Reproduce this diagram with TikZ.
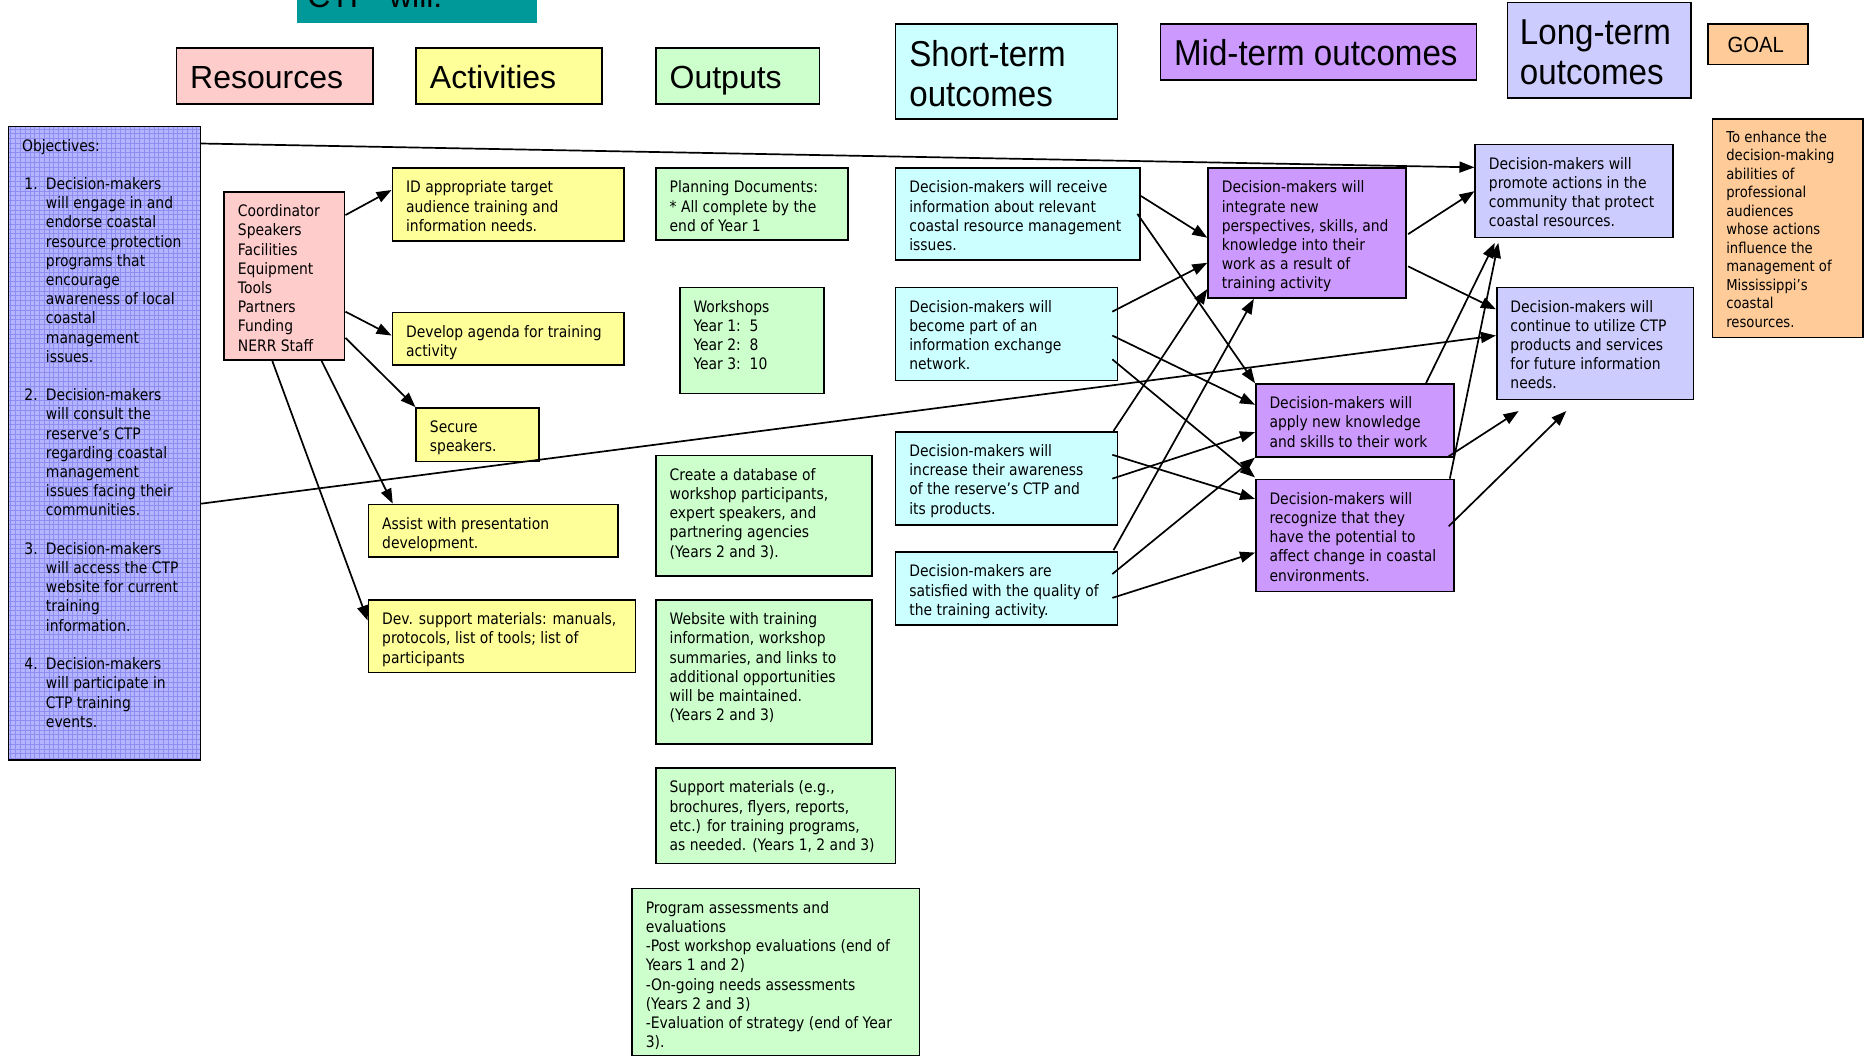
\documentclass[tikz,border=0pt]{standalone}
\usepackage{fontspec}
\setmainfont{DejaVu Sans}[FakeStretch=0.88]
\newfontfamily\hdfont{Liberation Sans}
\newfontfamily\hdnarrow{Liberation Sans}[FakeStretch=0.92]
\usetikzlibrary{arrows.meta,calc,fit}
\definecolor{pinkc}{HTML}{FFCCCC}
\definecolor{yellowc}{HTML}{FFFF99}
\definecolor{greenc}{HTML}{CCFFCC}
\definecolor{cyanc}{HTML}{CCFFFF}
\definecolor{purplec}{HTML}{CC99FF}
\definecolor{lavc}{HTML}{CCCCFF}
\definecolor{orangec}{HTML}{FFCC99}
\definecolor{tealc}{HTML}{009999}
\definecolor{objfill}{HTML}{B4B4FF}
\definecolor{objgrid}{HTML}{8E8EF2}
\newcommand\bodyf{\fontsize{15.8pt}{19.2pt}\selectfont}
\newcommand\goalf{\fontsize{15pt}{18.5pt}\selectfont}
\newcommand\hdf{\hdfont\fontsize{32pt}{38pt}\selectfont}
\newcommand\hdn{\hdnarrow\fontsize{36pt}{40pt}\selectfont}
\newcommand\objnum[1]{\hspace*{2.4pt}\makebox[21.5pt][l]{#1}}
\newcommand\objind{\hspace*{23.9pt}}
\newcommand\mkbox[7]{%
  \node[box, fill=#6, fit={(#2,#3)(#4,#5)}] (#1) {};
  \node[txt] (#1t) at ($(#1.north west)+(12,10)$) {\strut #7};
}
\begin{document}
\begin{tikzpicture}[x=1.1926pt,y=-1.1926pt,
  box/.style={draw=black, line width=1.6pt, inner sep=0pt},
  txt/.style={anchor=north west, inner sep=0pt, align=left, font=\bodyf},
  hdtxt/.style={anchor=base west, inner sep=0pt, font=\hdf},
  hdntxt/.style={anchor=west, inner sep=0pt, align=left, font=\hdn},
  arr/.style={line width=1.7pt, -{Triangle[length=15pt,width=11pt]}}]
\useasboundingbox (0,0) rectangle (1568,890);

% ---------- headers ----------
\node[fill=tealc, inner sep=0pt, fit={(249,-3)(450,19)}] (hCTP) {};
\node[anchor=base west, inner sep=0pt, font=\hdf] (hCTPt) at (257.5,6.7) {CTP\ \ will:};
\node[box, fill=pinkc, fit={(148,40)(313,87)}] (hRes) {};
\node[hdtxt] (hRest) at ($(hRes.north west)+(12,35)$) {Resources};
\node[box, fill=yellowc, fit={(349,40)(505,87)}] (hAct) {};
\node[hdtxt] (hActt) at ($(hAct.north west)+(12,35)$) {Activities};
\node[box, fill=greenc, fit={(550,40)(687,87)}] (hOut) {};
\node[hdtxt] (hOutt) at ($(hOut.north west)+(12,35)$) {Outputs};
\node[box, fill=cyanc, fit={(751,20)(937,100)}] (hST) {};
\node[hdntxt] (hSTt) at ($(hST.west)+(12,2)$) {Short-term\\outcomes};
\node[box, fill=purplec, fit={(973,20)(1238,67)}] (hMT) {};
\node[hdntxt] (hMTt) at ($(hMT.west)+(12,1)$) {Mid-term outcomes};
\node[box, fill=lavc, fit={(1264,2)(1418,82)}] (hLT) {};
\node[hdntxt] (hLTt) at ($(hLT.west)+(11,2)$) {Long-term\\outcomes};
\node[box, fill=orangec, fit={(1432,20)(1516,54)}] (hG) {};
\node[anchor=west, inner sep=0pt, font={\hdnarrow\fontsize{22pt}{26pt}\selectfont}] (hGt) at ($(hG.west)+(17,1)$) {GOAL};

% ---------- objectives ----------
\fill[objfill] (7,106) rectangle (168,637);
\foreach \gx in {9,13,...,167} {\draw[objgrid, line width=0.6pt] (\gx,106) -- (\gx,637);}
\foreach \gy in {108,112,...,636} {\draw[objgrid, line width=0.6pt] (7,\gy) -- (168,\gy);}
\node[box, fit={(7,106)(168,637)}] (obj) {};
\node[txt] (objt) at ($(obj.north west)+(12,10)$) {\strut Objectives:\\[19.2pt]
\objnum{1.}Decision-makers\\
\objind will engage in and\\
\objind endorse coastal\\
\objind resource protection\\
\objind programs that\\
\objind encourage\\
\objind awareness of local\\
\objind coastal\\
\objind management\\
\objind issues.\\[19.2pt]
\objnum{2.}Decision-makers\\
\objind will consult the\\
\objind reserve’s CTP\\
\objind regarding coastal\\
\objind management\\
\objind issues facing their\\
\objind communities.\\[19.2pt]
\objnum{3.}Decision-makers\\
\objind will access the CTP\\
\objind website for current\\
\objind training\\
\objind information.\\[19.2pt]
\objnum{4.}Decision-makers\\
\objind will participate in\\
\objind CTP training\\
\objind events.};

% ---------- resources ----------
\mkbox{res}{188}{161}{289}{302}{pinkc}{Coordinator\\Speakers\\Facilities\\Equipment\\Tools\\Partners\\Funding\\NERR Staff}

% ---------- activities ----------
\mkbox{A1}{329}{141}{523}{202}{yellowc}{ID appropriate target\\audience training and\\information needs.}
\mkbox{A2}{329}{262}{523}{306}{yellowc}{Develop agenda for training\\activity}
\mkbox{A3}{349}{342}{452}{387}{yellowc}{Secure\\speakers.}
\mkbox{A4}{309}{423}{518}{467}{yellowc}{Assist with presentation\\development.}
\mkbox{A5}{309}{503}{533}{564}{yellowc}{Dev. support materials: manuals,\\protocols, list of tools; list of\\participants}

% ---------- outputs ----------
\mkbox{O1}{550}{141}{711}{201}{greenc}{Planning Documents:\\* All complete by the\\end of Year 1}
\mkbox{O2}{570}{241}{691}{330}{greenc}{Workshops\\Year 1:\ \ 5\\Year 2:\ \ 8\\Year 3:\ \ 10}
\mkbox{O3}{550}{382}{731}{483}{greenc}{Create a database of\\workshop participants,\\expert speakers, and\\partnering agencies\\(Years 2 and 3).}
\mkbox{O4}{550}{503}{731}{624}{greenc}{Website with training\\information, workshop\\summaries, and links to\\additional opportunities\\will be maintained.\\(Years 2 and 3)}
\mkbox{O5}{550}{644}{751}{724}{greenc}{Support materials (e.g.,\\brochures, flyers, reports,\\etc.) for training programs,\\as needed. (Years 1, 2 and 3)}
\mkbox{O6}{530}{745}{771}{885}{greenc}{Program assessments and\\evaluations\\-Post workshop evaluations (end of\\Years 1 and 2)\\-On-going needs assessments\\(Years 2 and 3)\\-Evaluation of strategy (end of Year\\3).}

% ---------- short-term ----------
\mkbox{S1}{751}{141}{956}{218}{cyanc}{Decision-makers will receive\\information about relevant\\coastal resource management\\issues.}
\mkbox{S2}{751}{241}{937}{319}{cyanc}{Decision-makers will\\become part of an\\information exchange\\network.}
\mkbox{S3}{751}{362}{937}{440}{cyanc}{Decision-makers will\\increase their awareness\\of the reserve’s CTP and\\its products.}
\mkbox{S4}{751}{463}{937}{524}{cyanc}{Decision-makers are\\satisfied with the quality of\\the training activity.}

% ---------- mid-term ----------
\mkbox{M1}{1013}{141}{1179}{250}{purplec}{Decision-makers will\\integrate new\\perspectives, skills, and\\knowledge into their\\work as a result of\\training activity}
\mkbox{M2}{1053}{322}{1219}{383}{purplec}{Decision-makers will\\apply new knowledge\\and skills to their work}
\mkbox{M3}{1053}{402}{1219}{496}{purplec}{Decision-makers will\\recognize that they\\have the potential to\\affect change in coastal\\environments.}

% ---------- long-term ----------
\mkbox{L1}{1237}{121}{1403}{199}{lavc}{Decision-makers will\\promote actions in the\\community that protect\\coastal resources.}
\mkbox{L2}{1255}{241}{1420}{335}{lavc}{Decision-makers will\\continue to utilize CTP\\products and services\\for future information\\needs.}

% ---------- goal ----------
\node[box, fill=orangec, fit={(1436,100)(1562,283)}] (G) {};
\node[txt, font=\goalf] (Gt) at ($(G.north west)+(12,9)$) {\strut To enhance the\\decision-making\\abilities of\\professional\\audiences\\whose actions\\influence the\\management of\\Mississippi’s\\coastal\\resources.};

% ---------- free arrow ends ----------
\coordinate (f1) at ($(L2.south west)+(19,9)$);
\coordinate (f2) at ($(L2.south west)+(59,9)$);

% ---------- arrows: resources -> activities ----------
\draw[arr] ($(res.north east)+(0,20)$) -- ($(A1.north west)+(0,19)$);
\draw[arr] ($(res.north east)+(0,101)$) -- ($(A2.north west)+(0,20)$);
\draw[arr] ($(res.north east)+(0,123)$) -- (A3.north west);
\draw[arr] ($(res.south east)+(-20,0)$) -- ($(A4.north west)+(21,0)$);
\draw[arr] ($(res.south west)+(41,0)$) -- ($(A5.north west)+(0,18)$);

% ---------- objectives -> long-term ----------
\draw[arr] ($(obj.north east)+(0,15)$) -- ($(L1.north west)+(0,20)$);
\draw[arr] ($(obj.north east)+(0,317)$) -- ($(L2.north west)+(0,41)$);

% ---------- short-term -> mid-term ----------
\draw[arr] ($(S1.north east)+(0,24)$) -- ($(M1.north west)+(0,59)$);
\draw[arr] ($(S1.north east)+(-3,39)$) -- (M2.north west);
\draw[arr] ($(S2.north east)+(-5,21)$) -- ($(M1.north west)+(0,80)$);
\draw[arr] ($(S2.north east)+(-5,41)$) -- ($(M2.north west)+(0,18)$);
\draw[arr] ($(S2.north east)+(-5,61)$) -- ($(M3.north west)+(0,-1)$);
\draw[arr] ($(S3.north east)+(-4,0)$) -- ($(M1.north west)+(0,102)$);
\draw[arr] ($(S3.north east)+(-5,20)$) -- ($(M3.north west)+(0,17)$);
\draw[arr] ($(S3.north east)+(-5,40)$) -- ($(M2.north west)+(0,41)$);
\draw[arr] ($(S4.north east)+(-4,-1)$) -- ($(M1.south west)+(39,0)$);
\draw[arr] ($(S4.north east)+(-5,19)$) -- (M2.south west);
\draw[arr] ($(S4.north east)+(-5,39)$) -- ($(M3.north west)+(0,62)$);

% ---------- mid-term -> long-term ----------
\draw[arr] ($(M1.north east)+(1,56)$) -- ($(L1.north west)+(0,40)$);
\draw[arr] ($(M1.north east)+(1,83)$) -- ($(L2.north west)+(0,19)$);
\draw[arr] ($(M2.north east)+(-24,0)$) -- ($(L1.south west)+(17,4)$);
\draw[arr] ($(M3.north east)+(-4,0)$) -- ($(L1.south west)+(20,4)$);
\draw[arr] ($(M2.south east)+(-5,-1)$) -- (f1);
\draw[arr] ($(M3.north east)+(-5,40)$) -- (f2);
\end{tikzpicture}
\end{document}
